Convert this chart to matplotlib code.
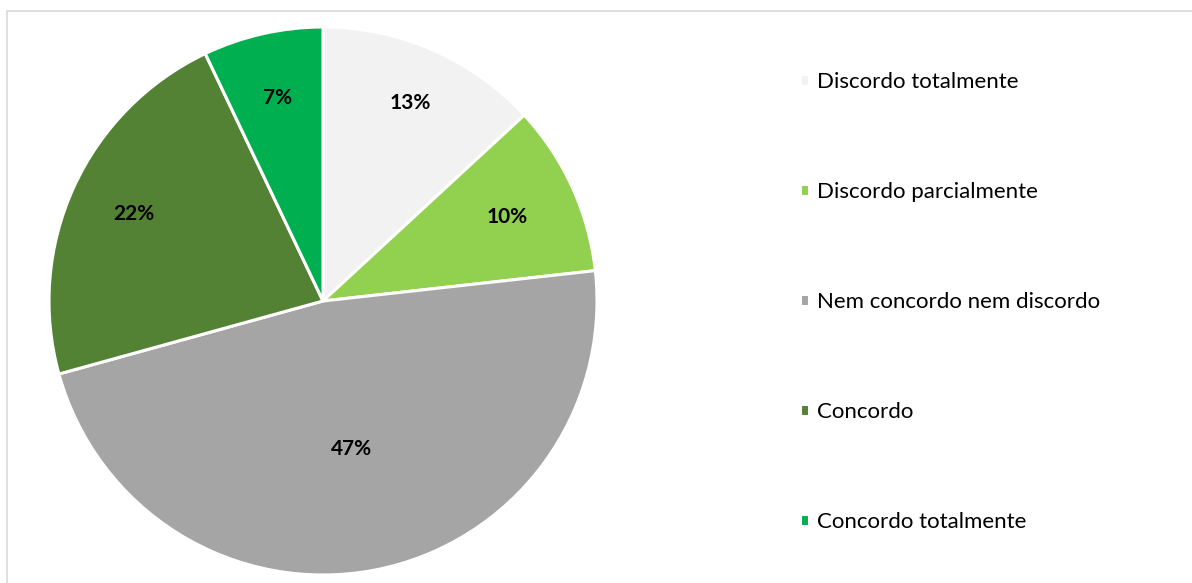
import numpy as np
import matplotlib
matplotlib.use("Agg")
import matplotlib.pyplot as plt
from matplotlib.patches import Rectangle

categories = [
    "Discordo totalmente",
    "Discordo parcialmente",
    "Nem concordo nem discordo",
    "Concordo",
    "Concordo totalmente",
]
percentages = [13, 10, 47, 22, 7]
colors = ["#F2F2F2", "#92D050", "#A5A5A5", "#548235", "#00B050"]
# radial position of each percentage label, as a fraction of the radius
label_radius = [0.79, 0.74, 0.55, 0.76, 0.76]

plt.rcParams["font.family"] = ["Lato", "DejaVu Sans"]

W, H = 1192, 583
fig = plt.figure(figsize=(W / 100, H / 100), dpi=100)
fig.patch.set_facecolor("white")

# outer chart-area frame
fig.add_artist(Rectangle((7.5 / W, -0.05), 1.1, (H - 10.5) / H + 0.05,
                         transform=fig.transFigure, fill=False,
                         edgecolor="#D9D9D9", linewidth=1.2))

cx, cy, r = 323, 301, 274
ax = fig.add_axes([(cx - r) / W, (H - cy - r) / H, 2 * r / W, 2 * r / H])
wedges, _ = ax.pie(percentages, colors=colors, startangle=90, counterclock=False,
                   radius=1.0, wedgeprops=dict(edgecolor="white", linewidth=2.2))
ax.set_xlim(-1, 1)
ax.set_ylim(-1, 1)
ax.set_aspect("equal")
ax.axis("off")

for w, val, lr in zip(wedges, percentages, label_radius):
    mid = np.deg2rad((w.theta1 + w.theta2) / 2)
    ax.text(lr * np.cos(mid), lr * np.sin(mid), f"{val}%",
            ha="center", va="center", fontsize=15, fontweight="bold",
            color="black")

leg = fig.legend(wedges, categories, loc="center left",
                 bbox_to_anchor=(800 / W, (H - 302) / H),
                 frameon=False, fontsize=16, borderpad=0, borderaxespad=0,
                 handlelength=0.4, handleheight=0.4, handletextpad=0.38,
                 labelspacing=4.05)

fig.savefig("out.png", dpi=100, facecolor="white")
